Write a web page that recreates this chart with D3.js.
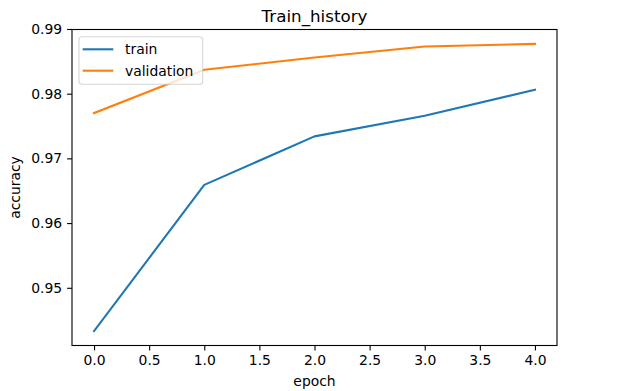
<!DOCTYPE html>
<html>
<head>
<meta charset="utf-8">
<script src="https://cdn.jsdelivr.net/npm/d3@7/dist/d3.min.js"></script>
<style>
  html, body { margin: 0; padding: 0; background: #fff; }
  svg { display: block; }
  text { font-family: "DejaVu Sans", sans-serif; fill: #000; }
</style>
</head>
<body>
<svg id="chart" width="624" height="391"></svg>
<script>
const epochs = [0, 1, 2, 3, 4];
const train = [0.9433, 0.9659, 0.9734, 0.9766, 0.9806];
const validation = [0.9770, 0.9837, 0.9856, 0.9873, 0.9877];
const xTicks = [0.0, 0.5, 1.0, 1.5, 2.0, 2.5, 3.0, 3.5, 4.0];
const yTicks = [0.95, 0.96, 0.97, 0.98, 0.99];
const seriesNames = ["train", "validation"];
const colors = ["#1f77b4", "#ff7f0e"];

const W = 624, H = 391;
const m = { left: 72, right: 557, top: 29.5, bottom: 345.5 };
const svg = d3.select("#chart");

// matplotlib-like 5% margins
const xMin = d3.min(epochs), xMax = d3.max(epochs);
const xPad = (xMax - xMin) * 0.05;
const allY = train.concat(validation);
const yMin = d3.min(allY), yMax = d3.max(allY);
const yPad = (yMax - yMin) * 0.05;

const x = d3.scaleLinear().domain([xMin - xPad, xMax + xPad]).range([m.left, m.right]);
const y = d3.scaleLinear().domain([yMin - yPad, yMax + yPad]).range([m.bottom, m.top]);

const fs = 13.9;

// lines
const line = d3.line().x((d, i) => x(epochs[i])).y(d => y(d));
[train, validation].forEach((s, k) => {
  svg.append("path").datum(s)
    .attr("d", line)
    .attr("fill", "none")
    .attr("stroke", colors[k])
    .attr("stroke-width", 2.1)
    .attr("stroke-linecap", "square")
    .attr("stroke-linejoin", "round");
});

// axes
const xAxis = d3.axisBottom(x).tickValues(xTicks).tickFormat(d3.format(".1f"))
  .tickSizeInner(4.9).tickSizeOuter(0).tickPadding(4.9);
const gx = svg.append("g").attr("transform", `translate(0,${m.bottom})`).call(xAxis);
gx.select(".domain").remove();
gx.selectAll(".tick line").attr("stroke", "#000").attr("stroke-width", 1.1);
gx.selectAll(".tick text").attr("font-size", fs).attr("font-family", "DejaVu Sans").attr("fill", "#000");

const yAxis = d3.axisLeft(y).tickValues(yTicks).tickFormat(d3.format(".2f"))
  .tickSizeInner(4.9).tickSizeOuter(0).tickPadding(4.9);
const gy = svg.append("g").attr("transform", `translate(${m.left},0)`).call(yAxis);
gy.select(".domain").remove();
gy.selectAll(".tick line").attr("stroke", "#000").attr("stroke-width", 1.1);
gy.selectAll(".tick text").attr("font-size", fs).attr("font-family", "DejaVu Sans").attr("fill", "#000");

// spines
svg.append("rect")
  .attr("x", m.left).attr("y", m.top)
  .attr("width", m.right - m.left).attr("height", m.bottom - m.top)
  .attr("fill", "none").attr("stroke", "#000").attr("stroke-width", 1.1);

// title & labels
svg.append("text").attr("x", (m.left + m.right) / 2).attr("y", 21.5)
  .attr("text-anchor", "middle").attr("font-size", 16.7).text("Train_history");
svg.append("text").attr("x", (m.left + m.right) / 2).attr("y", 385.5)
  .attr("text-anchor", "middle").attr("font-size", fs).text("epoch");
svg.append("text")
  .attr("transform", `translate(20,${(m.top + m.bottom) / 2}) rotate(-90)`)
  .attr("text-anchor", "middle").attr("font-size", fs).text("accuracy");

// legend
const lg = svg.append("g");
lg.append("rect")
  .attr("x", 79).attr("y", 36.7).attr("width", 123.7).attr("height", 47.6)
  .attr("rx", 3).attr("ry", 3)
  .attr("fill", "#fff").attr("fill-opacity", 0.8)
  .attr("stroke", "#cccccc").attr("stroke-opacity", 0.8).attr("stroke-width", 1.1);
seriesNames.forEach((name, i) => {
  const cy = 49.3 + i * 21.4;
  lg.append("line").attr("x1", 82.7).attr("x2", 113.3).attr("y1", cy).attr("y2", cy)
    .attr("stroke", colors[i]).attr("stroke-width", 2.1);
  lg.append("text").attr("x", 125).attr("y", cy).attr("dy", "0.35em")
    .attr("font-size", fs).text(name);
});
</script>
</body>
</html>
